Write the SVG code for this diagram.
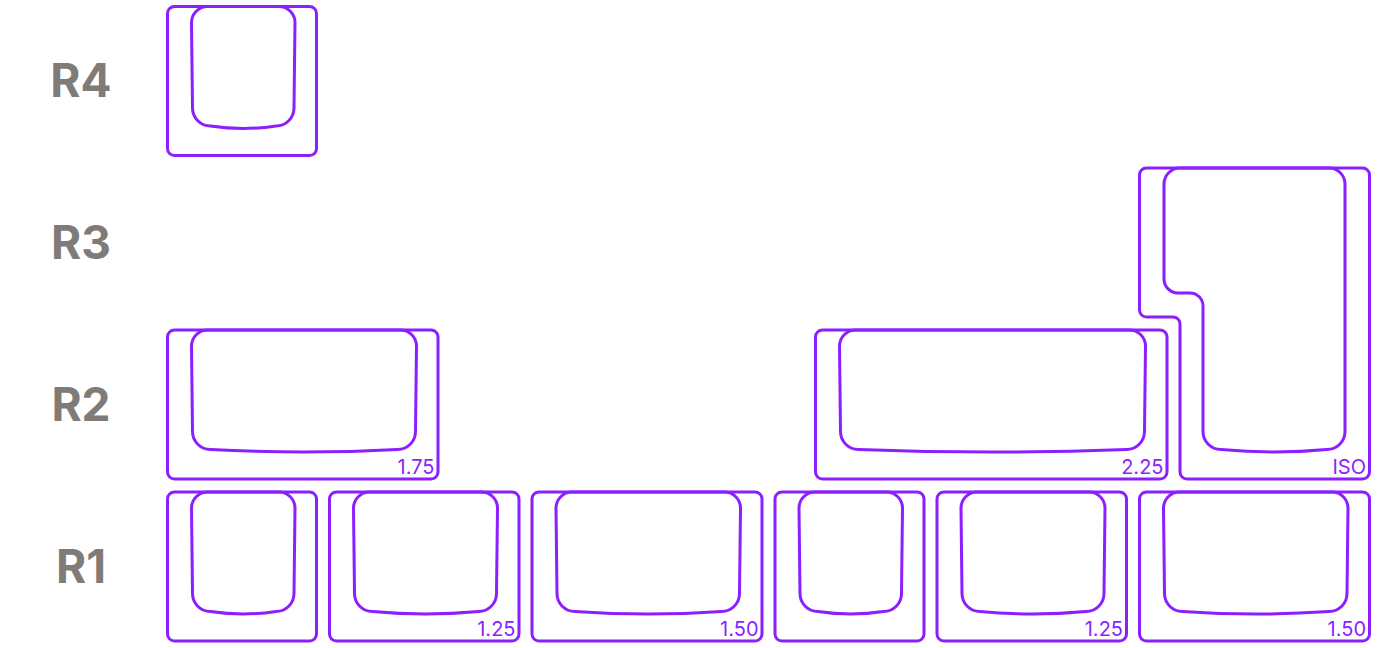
<svg xmlns="http://www.w3.org/2000/svg" width="1377" height="648" viewBox="0 0 1377 648">
<style>
.k{fill:none;stroke:#8b1fff;stroke-width:3;stroke-linejoin:round}
.c{fill:none;stroke:#8b1fff;stroke-width:3;stroke-linejoin:round}
.row{font-family:Inter,"Liberation Sans",sans-serif;font-weight:700;font-size:46px;fill:#7e7b78;text-anchor:middle}
.sz{font-family:Inter,"Liberation Sans",sans-serif;font-weight:400;font-size:20px;fill:#8b1fff;text-anchor:end}
</style>
<rect width="1377" height="648" fill="#ffffff"/>
<g id="row-labels">
<text class="row" x="81" y="97">R4</text>
<text class="row" x="81" y="259">R3</text>
<text class="row" x="81" y="421">R2</text>
<text class="row" x="81" y="583">R1</text>
</g>
<g id="key-r4">
<rect class="k" x="167.5" y="6.5" width="149" height="149" rx="7"/>
<path class="c" d="M191.5,22.5 A16,16 0 0 1 207.5,6.5 H279 A16,16 0 0 1 295,22.5 L294,108 A18,18 0 0 1 276,126 Q243.25,131 210.5,126 A18,18 0 0 1 192.5,108 Z"/>
</g>
<g id="key-r2-175">
<rect class="k" x="167.5" y="330" width="270.5" height="149" rx="7"/>
<path class="c" d="M191.5,346 A16,16 0 0 1 207.5,330 H400.5 A16,16 0 0 1 416.5,346 L415.5,431.5 A18,18 0 0 1 397.5,449.5 Q304,454.5 210.5,449.5 A18,18 0 0 1 192.5,431.5 Z"/>
<text class="sz" x="434.5" y="474">1.75</text>
</g>
<g id="key-r2-225">
<rect class="k" x="815.5" y="330" width="351.5" height="149" rx="7"/>
<path class="c" d="M839.5,346 A16,16 0 0 1 855.5,330 H1129.5 A16,16 0 0 1 1145.5,346 L1144.5,431.5 A18,18 0 0 1 1126.5,449.5 Q992.5,454.5 858.5,449.5 A18,18 0 0 1 840.5,431.5 Z"/>
<text class="sz" x="1163.5" y="474">2.25</text>
</g>
<g id="key-iso">
<path class="k" d="M1146.5,168 H1362.5 A7,7 0 0 1 1369.5,175 V472 A7,7 0 0 1 1362.5,479 H1187 A7,7 0 0 1 1180,472 V324 A7,7 0 0 0 1173,317 H1146.5 A7,7 0 0 1 1139.5,310 V175 A7,7 0 0 1 1146.5,168 Z"/>
<path class="c" d="M1164,184 A16,16 0 0 1 1180,168 H1329 A16,16 0 0 1 1345,184 V431.5 A18,18 0 0 1 1327,449.5 Q1274,454.5 1221,449.5 A18,18 0 0 1 1203,431.5 V306 A13,13 0 0 0 1190,293 H1178 A14,14 0 0 1 1164,279 Z"/>
<text class="sz" x="1366" y="474">ISO</text>
</g>
<g id="key-r1-a">
<rect class="k" x="167.5" y="492" width="149" height="149" rx="7"/>
<path class="c" d="M191.5,508 A16,16 0 0 1 207.5,492 H279 A16,16 0 0 1 295,508 L294,593.5 A18,18 0 0 1 276,611.5 Q243.25,616.5 210.5,611.5 A18,18 0 0 1 192.5,593.5 Z"/>
</g>
<g id="key-r1-b">
<rect class="k" x="329.5" y="492" width="189.5" height="149" rx="7"/>
<path class="c" d="M353.5,508 A16,16 0 0 1 369.5,492 H481.5 A16,16 0 0 1 497.5,508 L496.5,593.5 A18,18 0 0 1 478.5,611.5 Q425.5,616.5 372.5,611.5 A18,18 0 0 1 354.5,593.5 Z"/>
<text class="sz" x="515.5" y="636">1.25</text>
</g>
<g id="key-r1-c">
<rect class="k" x="532" y="492" width="230" height="149" rx="7"/>
<path class="c" d="M556,508 A16,16 0 0 1 572,492 H724.5 A16,16 0 0 1 740.5,508 L739.5,593.5 A18,18 0 0 1 721.5,611.5 Q648.25,616.5 575,611.5 A18,18 0 0 1 557,593.5 Z"/>
<text class="sz" x="758.5" y="636">1.50</text>
</g>
<g id="key-r1-d">
<rect class="k" x="775" y="492" width="149" height="149" rx="7"/>
<path class="c" d="M799,508 A16,16 0 0 1 815,492 H886.5 A16,16 0 0 1 902.5,508 L901.5,593.5 A18,18 0 0 1 883.5,611.5 Q850.75,616.5 818,611.5 A18,18 0 0 1 800,593.5 Z"/>
</g>
<g id="key-r1-e">
<rect class="k" x="937" y="492" width="189.5" height="149" rx="7"/>
<path class="c" d="M961,508 A16,16 0 0 1 977,492 H1089 A16,16 0 0 1 1105,508 L1104,593.5 A18,18 0 0 1 1086,611.5 Q1033,616.5 980,611.5 A18,18 0 0 1 962,593.5 Z"/>
<text class="sz" x="1123" y="636">1.25</text>
</g>
<g id="key-r1-f">
<rect class="k" x="1139.5" y="492" width="230" height="149" rx="7"/>
<path class="c" d="M1163.5,508 A16,16 0 0 1 1179.5,492 H1332 A16,16 0 0 1 1348,508 L1347,593.5 A18,18 0 0 1 1329,611.5 Q1255.75,616.5 1182.5,611.5 A18,18 0 0 1 1164.5,593.5 Z"/>
<text class="sz" x="1366" y="636">1.50</text>
</g>
<g id="connectors"></g>
</svg>
